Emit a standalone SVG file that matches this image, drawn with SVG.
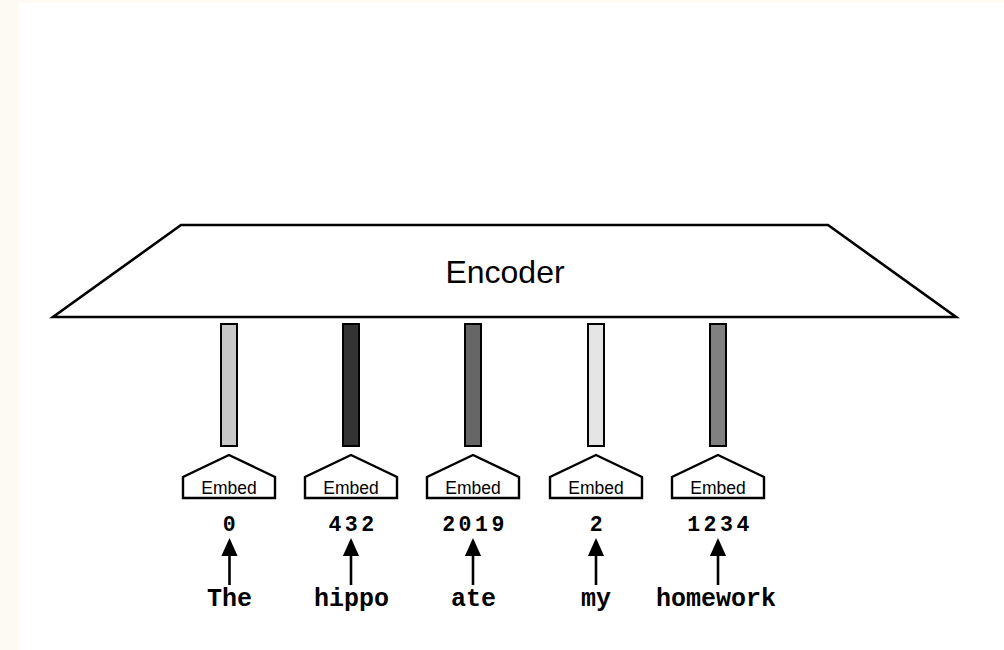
<svg xmlns="http://www.w3.org/2000/svg" width="1004" height="650" viewBox="0 0 1004 650">
  <style>
    .outline { fill: #ffffff; stroke: #000000; stroke-width: 2.6; stroke-linejoin: miter; }
    .bar { stroke: #000000; stroke-width: 2; }
    .house { fill: #ffffff; stroke: #000000; stroke-width: 2.4; stroke-linejoin: miter; }
    .sans { font-family: "Liberation Sans", Arial, sans-serif; fill: #000000; text-anchor: middle; }
    .mono { font-family: "Liberation Mono", "Courier New", monospace; font-weight: bold; fill: #000000; text-anchor: middle; }
    .num { font-size: 21.5px; letter-spacing: 3.5px; }
    .word { font-size: 25px; }
    .link { stroke: #000000; stroke-width: 2.6; fill: none; }
  </style>
  <defs>
    <marker id="arrowhead" markerWidth="18" markerHeight="20" refX="0" refY="10" orient="auto" markerUnits="userSpaceOnUse" viewBox="0 0 20 20">
      <path d="M0,1 L20,10 L0,19 Z" fill="#000000"/>
    </marker>
    <g id="embed-block">
      <path class="house" d="M-46,43 L-46,22 L0,0 L46,22 L46,43 Z"/>
      <text class="sans" x="0" y="38.5" font-size="17.5">Embed</text>
    </g>
  </defs>

  <!-- page background -->
  <rect x="0" y="0" width="1004" height="650" fill="#fdf9f3"/>
  <rect x="19" y="3" width="985" height="647" fill="#ffffff"/>

  <!-- encoder -->
  <g id="encoder">
    <polygon class="outline" points="181,225 828,225 956,317 53,317"/>
    <text class="sans" x="505" y="283" font-size="32">Encoder</text>
  </g>

  <!-- token embeddings -->
  <g id="token-the">
    <rect class="bar" x="221" y="324" width="16" height="122" fill="#c8c8c8"/>
    <use href="#embed-block" x="229" y="455"/>
    <text class="mono num" x="231" y="530.5">0</text>
    <text class="mono word" x="229.5" y="606">The</text>
  </g>
  <g id="token-hippo">
    <rect class="bar" x="343" y="324" width="16" height="122" fill="#333333"/>
    <use href="#embed-block" x="351" y="455"/>
    <text class="mono num" x="353" y="530.5">432</text>
    <text class="mono word" x="351.5" y="606">hippo</text>
  </g>
  <g id="token-ate">
    <rect class="bar" x="465" y="324" width="16" height="122" fill="#666666"/>
    <use href="#embed-block" x="473" y="455"/>
    <text class="mono num" x="475" y="530.5">2019</text>
    <text class="mono word" x="473.5" y="606">ate</text>
  </g>
  <g id="token-my">
    <rect class="bar" x="588" y="324" width="16" height="122" fill="#e5e5e5"/>
    <use href="#embed-block" x="596" y="455"/>
    <text class="mono num" x="598" y="530.5">2</text>
    <text class="mono word" x="596" y="606">my</text>
  </g>
  <g id="token-homework">
    <rect class="bar" x="710" y="324" width="16" height="122" fill="#808080"/>
    <use href="#embed-block" x="718" y="455"/>
    <text class="mono num" x="720" y="530.5">1234</text>
    <text class="mono word" x="716" y="606">homework</text>
  </g>

  <!-- lookup arrows: word to id -->
  <g id="connectors">
    <line class="link" x1="229.5" y1="585" x2="229.5" y2="556" marker-end="url(#arrowhead)"/>
    <line class="link" x1="351" y1="585" x2="351" y2="556" marker-end="url(#arrowhead)"/>
    <line class="link" x1="473" y1="585" x2="473" y2="556" marker-end="url(#arrowhead)"/>
    <line class="link" x1="596" y1="585" x2="596" y2="556" marker-end="url(#arrowhead)"/>
    <line class="link" x1="718" y1="585" x2="718" y2="556" marker-end="url(#arrowhead)"/>
  </g>
</svg>
